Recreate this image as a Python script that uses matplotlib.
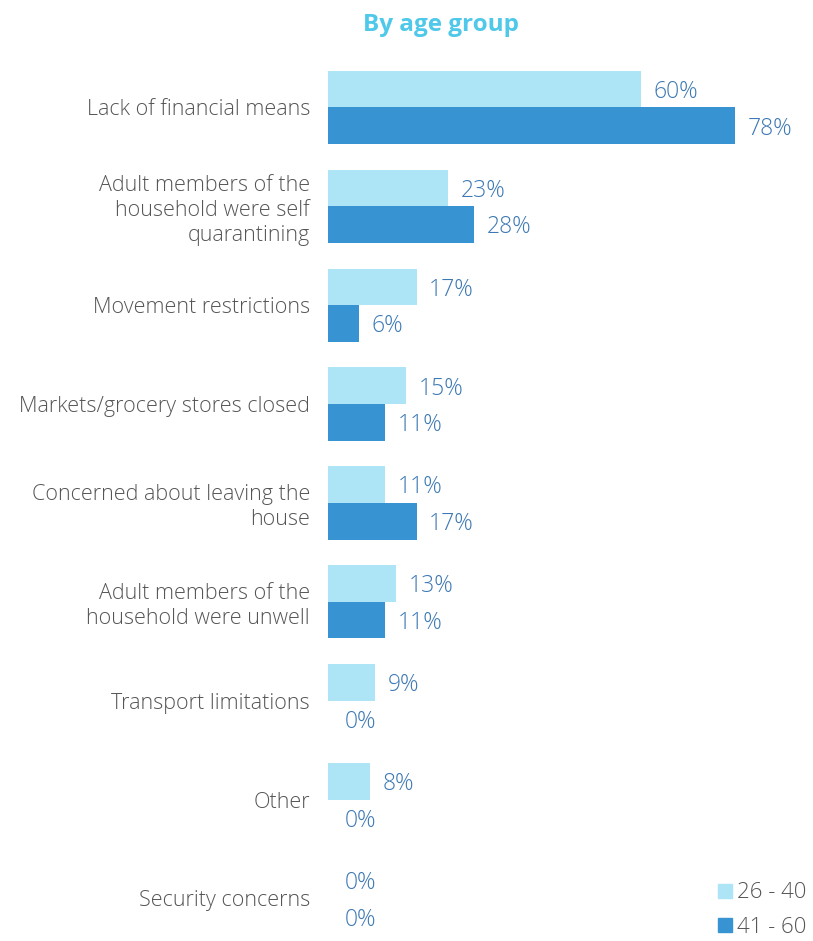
import matplotlib
matplotlib.use("Agg")
import matplotlib.pyplot as plt
from matplotlib.patches import Patch

categories = ["Lack of financial means",
              "Adult members of the\nhousehold were self\nquarantining",
              "Movement restrictions",
              "Markets/grocery stores closed",
              "Concerned about leaving the\nhouse",
              "Adult members of the\nhousehold were unwell",
              "Transport limitations",
              "Other",
              "Security concerns"]
age_26_40 = [60, 23, 17, 15, 11, 13, 9, 8, 0]
age_41_60 = [78, 28, 6, 11, 17, 11, 0, 0, 0]
series_names = ["26 - 40", "41 - 60"]

c_light = "#ADE5F6"
c_dark = "#3893D2"
c_label = "#3C78B4"
c_text = "#555555"
c_title = "#4FC8EA"

plt.rcParams['font.family'] = ['Open Sans', 'DejaVu Sans']

W, H = 813, 941
fig = plt.figure(figsize=(W/100, H/100), dpi=100)
ax = fig.add_axes([328/W, 0, 470/W, (941-58)/H])
ax.set_xlim(0, 470/5.22)
ax.set_ylim(8.43, -0.5)

bh = 0.37
y = list(range(len(categories)))
for i in y:
    ax.barh(i - bh/2, age_26_40[i], height=bh, color=c_light)
    ax.barh(i + bh/2, age_41_60[i], height=bh, color=c_dark)
    for val, yy in ((age_26_40[i], i - bh/2), (age_41_60[i], i + bh/2)):
        off = 9 if val > 0 else 12
        ax.annotate(f"{val}%", (val, yy), xytext=(off, -2), textcoords="offset points",
                    ha="left", va="center", fontsize=16.5, color=c_label, fontweight="light")

ax.set_yticks(y)
ax.set_yticklabels(categories, fontsize=15.5, color=c_text, linespacing=1.24, fontweight="light")
ax.tick_params(axis='y', length=0, pad=13)
ax.set_xticks([])
for s in ax.spines.values():
    s.set_visible(False)

fig.text(441/W, 1 - 25/H, "By age group", ha="center", va="center",
         fontsize=17.5, fontweight="bold", color=c_title)

handles = [Patch(color=c_light), Patch(color=c_dark)]
leg = fig.legend(handles, series_names, loc="lower right", bbox_to_anchor=(1.003, -0.006),
                 frameon=False, handlelength=0.6, handleheight=0.6,
                 handletextpad=0.25, labelspacing=0.6, borderaxespad=0.0,
                 prop={'weight': 'light', 'size': 16})
for t in leg.get_texts():
    t.set_color(c_text)

fig.savefig("out.png", dpi=100)
